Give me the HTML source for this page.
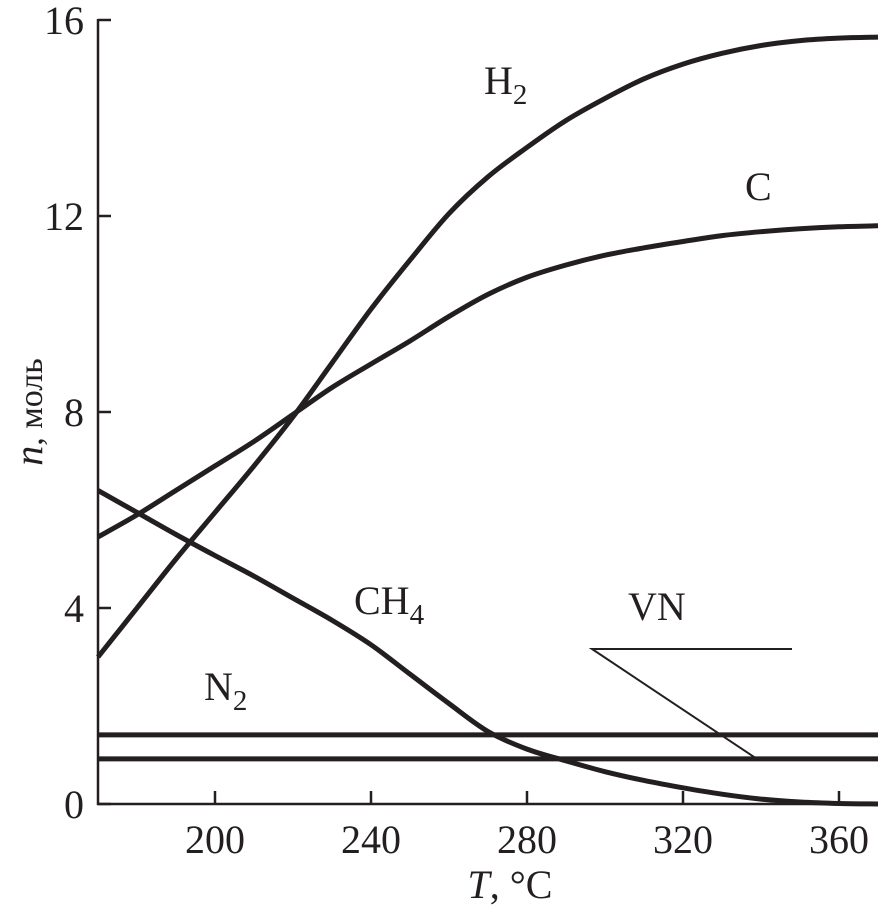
<!DOCTYPE html>
<html><head><meta charset="utf-8"><style>
html,body{margin:0;padding:0;background:#fff;}
svg{display:block;font-family:"Liberation Serif","DejaVu Serif",serif;}
</style></head><body>
<svg id="chart" width="880" height="920" viewBox="0 0 880 920"></svg>
<script>
const temps = [170,180,190,200,210,220,230,240,250,260,270,280,290,300,310,320,330,340,350,360,370];
const h2 = [3.0,4.0,5.0,5.95,6.9,7.9,9.0,10.1,11.1,12.05,12.8,13.4,13.95,14.4,14.8,15.1,15.32,15.48,15.58,15.63,15.65];
const carbon = [5.45,5.9,6.4,6.9,7.4,7.95,8.5,8.98,9.45,9.95,10.4,10.75,11.0,11.2,11.35,11.48,11.6,11.68,11.74,11.78,11.8];
const ch4 = [6.4,5.95,5.5,5.07,4.65,4.2,3.75,3.25,2.65,2.05,1.48,1.12,0.88,0.66,0.48,0.33,0.2,0.1,0.04,0.01,0.0];
const n2 = [1.41,1.41];
const vn = [0.92,0.92];
const xTicks = [200,240,280,320,360];
const yTicks = [0,4,8,12,16];

const NS="http://www.w3.org/2000/svg";
const svg=document.getElementById('chart');
const X0=98, XEND=878;
function xs(t){return 98+(t-170)*3.9;}
function ys(v){return 804-v*49;}
function el(tag,attrs,parent){const e=document.createElementNS(NS,tag);for(const k in attrs)e.setAttribute(k,attrs[k]);(parent||svg).appendChild(e);return e;}

const ax=el('path',{d:`M${X0} 19 L${X0} 804 L${XEND} 804`,fill:'none',stroke:'#231f20','stroke-width':2.5});


yTicks.forEach(v=>{
  const t=el('line',{x1:X0,x2:X0+13,y1:ys(v),y2:ys(v),stroke:'#231f20','stroke-width':2.5});
  
  
  const l=el('text',{x:X0-14,y:ys(v)+14,'text-anchor':'end','font-size':40,fill:'#231f20'});
  l.textContent=v;
  
  
});
xTicks.forEach(v=>{
  const t=el('line',{x1:xs(v),x2:xs(v),y1:804,y2:791,stroke:'#231f20','stroke-width':2.5});
  
  
  const l=el('text',{x:xs(v),y:853,'text-anchor':'middle','font-size':40,fill:'#231f20'});
  l.textContent=v;
  
  
});

function curve(vals,name){
  const pts=vals.map((v,i)=>[xs(temps[i]),ys(v)]);
  let d=`M${pts[0][0]} ${pts[0][1]}`;
  for(let i=0;i<pts.length-1;i++){
    const p0=pts[Math.max(0,i-1)],p1=pts[i],p2=pts[i+1],p3=pts[Math.min(pts.length-1,i+2)];
    const c1=[p1[0]+(p2[0]-p0[0])/6,p1[1]+(p2[1]-p0[1])/6];
    const c2=[p2[0]-(p3[0]-p1[0])/6,p2[1]-(p3[1]-p1[1])/6];
    d+=` C${c1[0]} ${c1[1]} ${c2[0]} ${c2[1]} ${p2[0]} ${p2[1]}`;
  }
  const p=el('path',{d:d,fill:'none',stroke:'#231f20','stroke-width':5,'stroke-linejoin':'round'});
  
  
}
curve(h2,'h2-line');
curve(carbon,'c-line');
curve(ch4,'ch4-line');
function hline(vals,name){
  const p=el('line',{x1:xs(170),x2:xs(370),y1:ys(vals[0]),y2:ys(vals[1]),stroke:'#231f20','stroke-width':5});
  
  
}
hline(n2,'n2-line');
hline(vn,'vn-line');

const ld=el('path',{d:`M792 649 L592 649 L757 ${ys(vn[0])}`,fill:'none',stroke:'#231f20','stroke-width':2});



function label(x,y,main,sub,name){
  const t=el('text',{x:x,y:y,'font-size':40,fill:'#231f20'});
  
  
  t.appendChild(document.createTextNode(main));
  if(sub){const s=el('tspan',{'font-size':29,dy:10},t);s.textContent=sub;}
}
label(484,94,'H','2','h2-label');
label(745,200,'C',null,'c-label');
label(354,614,'CH','4','ch4-label');
label(628,620,'VN',null,'vn-label');
label(204,700,'N','2','n2-label');

const xt=el('text',{x:510,y:898,'text-anchor':'middle','font-size':40,fill:'#231f20'});


const xi=el('tspan',{'font-style':'italic'},xt);xi.textContent='T';
xt.appendChild(document.createTextNode(', °C'));

const yt=el('text',{x:0,y:0,'text-anchor':'middle','font-size':34,fill:'#231f20',transform:'translate(42,412) rotate(-90)'});


const yi=el('tspan',{'font-style':'italic','font-size':40},yt);yi.textContent='n';
yt.appendChild(document.createTextNode(', моль'));
</script>
</body></html>
